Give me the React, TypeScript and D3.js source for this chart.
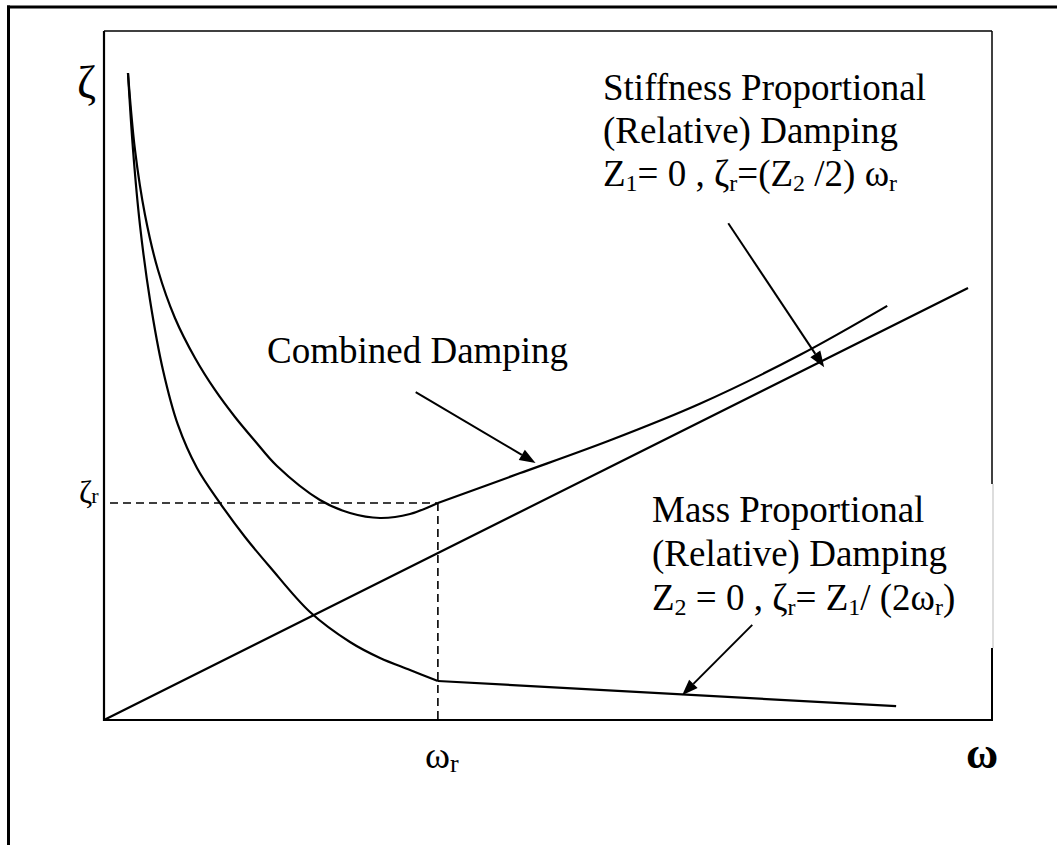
import React from "react";
import * as d3 from "d3";

// Damping ratio ζ versus frequency ω (Rayleigh damping sketch)
// Units: ω and ζ on 0..100 abstract scales.
const omegaR = 37.6;
const zetaR = 31.5;

const stiffnessOmega = [0, 97.3];
const stiffnessZeta = [0, 62.7];

const massCurveOmega = [2.7, 3.27, 4.05, 5.18, 6.64, 8.33, 10.47, 13.06, 15.88, 18.69, 23.2, 27.7, 31.08, 34.46, 37.6];
const massCurveZeta = [93.9, 82.73, 71.84, 60.96, 50.80, 42.82, 36.57, 31.49, 26.56, 22.21, 15.67, 11.32, 9.0, 7.26, 5.66];
const massTailOmega = [37.6, 89.2];
const massTailZeta = [5.66, 2.0];

const combinedCurveOmega = [2.7, 3.49, 4.62, 6.08, 7.99, 10.25, 12.5, 14.75, 17.0, 19.48, 24.32, 27.7, 31.08, 34.46, 37.6];
const combinedCurveZeta = [93.9, 82.73, 73.29, 65.31, 58.35, 52.54, 47.9, 43.98, 40.5, 36.86, 31.93, 30.04, 29.32, 29.9, 31.5];
const combinedTailOmega = [37.6, 46.8, 57.0, 67.1, 78.4, 88.2];
const combinedTailZeta = [31.5, 35.8, 40.6, 45.9, 53.0, 60.1];

// Annotation arrows: [fromω, fromζ, toω, toζ]
const arrowCombined = [35.1, 47.6, 48.6, 37.3];
const arrowStiffness = [70.3, 72.1, 81.1, 51.2];
const arrowMass = [73.0, 13.8, 65.1, 3.6];

const W = 1057;
const H = 845;
const plot = { left: 104, right: 992, top: 31, bottom: 720 };

const x = d3.scaleLinear().domain([0, 100]).range([plot.left, plot.right]);
const y = d3.scaleLinear().domain([0, 100]).range([plot.bottom, plot.top]);

const zip = (xs: number[], ys: number[]) => xs.map((v, i) => [v, ys[i]] as [number, number]);

const smooth = d3
  .line<[number, number]>()
  .x((d) => x(d[0]))
  .y((d) => y(d[1]))
  .curve(d3.curveCatmullRom.alpha(0.5));
const straight = d3
  .line<[number, number]>()
  .x((d) => x(d[0]))
  .y((d) => y(d[1]));

const FONT = "'Liberation Serif', 'Times New Roman', serif";

function Arrow({ a }: { a: number[] }) {
  const x1 = x(a[0]);
  const y1 = y(a[1]);
  const x2 = x(a[2]);
  const y2 = y(a[3]);
  const ang = Math.atan2(y2 - y1, x2 - x1);
  const len = 16;
  const half = 6;
  const bx = x2 - len * Math.cos(ang);
  const by = y2 - len * Math.sin(ang);
  const px = -Math.sin(ang) * half;
  const py = Math.cos(ang) * half;
  return (
    <g>
      <line x1={x1} y1={y1} x2={bx} y2={by} stroke="#000" strokeWidth={2} />
      <polygon points={`${x2},${y2} ${bx + px},${by + py} ${bx - px},${by - py}`} fill="#000" />
    </g>
  );
}

const Sub = ({ children }: { children: React.ReactNode }) => (
  <tspan fontSize={24} dy={5}>
    {children}
  </tspan>
);
const Up = ({ children }: { children: React.ReactNode }) => <tspan dy={-5}>{children}</tspan>;

export default function App() {
  return (
    <svg
      width={W}
      height={H}
      style={{ position: "absolute", left: 0, top: 0, background: "#fff" }}
      fontFamily={FONT}
    >
      {/* outer frame */}
      <line x1={8.5} y1={5.5} x2={8.5} y2={H} stroke="#000" strokeWidth={3} />
      <line x1={7} y1={7} x2={W} y2={7} stroke="#000" strokeWidth={3} />

      {/* plot box */}
      <line x1={plot.left} y1={plot.top} x2={plot.right} y2={plot.top} stroke="#000" strokeWidth={1.5} />
      <line x1={plot.right} y1={plot.top} x2={plot.right} y2={484} stroke="#000" strokeWidth={1.5} />
      <line x1={plot.right + 1} y1={484} x2={plot.right + 1} y2={648} stroke="#bbb" strokeWidth={1} />
      <line x1={plot.right} y1={648} x2={plot.right} y2={plot.bottom} stroke="#000" strokeWidth={2} />
      <line x1={plot.left} y1={plot.top} x2={plot.left} y2={plot.bottom + 1} stroke="#000" strokeWidth={2.2} />
      <line x1={plot.left} y1={plot.bottom} x2={plot.right + 1} y2={plot.bottom} stroke="#000" strokeWidth={2.2} />

      {/* ζr / ωr guides */}
      <line x1={x(0) + 6} y1={y(zetaR)} x2={x(omegaR)} y2={y(zetaR)} stroke="#000" strokeWidth={1.6} strokeDasharray="8,5" />
      <line x1={x(omegaR)} y1={y(zetaR)} x2={x(omegaR)} y2={plot.bottom} stroke="#000" strokeWidth={1.6} strokeDasharray="8,5" />

      {/* curves */}
      <g fill="none" stroke="#000" strokeWidth={2.2}>
        <path d={straight(zip(stiffnessOmega, stiffnessZeta)) || ""} />
        <path d={smooth(zip(massCurveOmega, massCurveZeta)) || ""} />
        <path d={straight(zip(massTailOmega, massTailZeta)) || ""} />
        <path d={smooth(zip(combinedCurveOmega, combinedCurveZeta)) || ""} />
        <path d={smooth(zip(combinedTailOmega, combinedTailZeta)) || ""} />
      </g>

      <Arrow a={arrowCombined} />
      <Arrow a={arrowStiffness} />
      <Arrow a={arrowMass} />

      {/* axis symbols */}
      <text x={77} y={98} fontSize={46}>ζ</text>
      <text x={79} y={503} fontSize={32}>
        ζ<tspan fontSize={22} dx={-1}>r</tspan>
      </text>
      <text x={425} y={768} fontSize={38}>
        ω<tspan fontSize={26} dy={4}>r</tspan>
      </text>
      <text x={966} y={768} fontSize={44} fontWeight="bold">ω</text>

      {/* labels */}
      <g fontSize={37}>
        <text x={603} y={100}>Stiffness Proportional</text>
        <text x={603} y={143}>(Relative) Damping</text>
        <text x={603} y={186}>
          Z<Sub>1</Sub>
          <Up>= 0 , ζ</Up>
          <Sub>r</Sub>
          <Up>=(Z</Up>
          <Sub>2</Sub>
          <Up> /2) ω</Up>
          <Sub>r</Sub>
        </text>

        <text x={267} y={363}>Combined Damping</text>

        <text x={652} y={522}>Mass Proportional</text>
        <text x={652} y={566}>(Relative) Damping</text>
        <text x={652} y={610}>
          Z<Sub>2</Sub>
          <Up> = 0 , ζ</Up>
          <Sub>r</Sub>
          <Up>= Z</Up>
          <Sub>1</Sub>
          <Up>/ (2ω</Up>
          <Sub>r</Sub>
          <Up>)</Up>
        </text>
      </g>
    </svg>
  );
}
